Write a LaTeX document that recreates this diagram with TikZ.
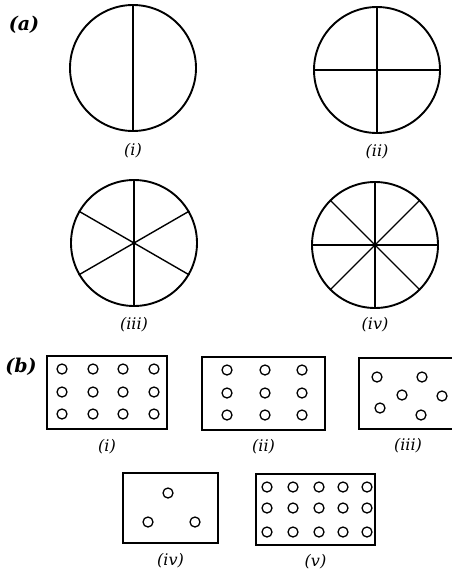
\documentclass[tikz,border=0pt]{standalone}
\usepackage{fontspec}
\newfontfamily\capfont{DejaVu Serif}
\usetikzlibrary{positioning}
\begin{document}
\begin{tikzpicture}[
    x=1pt, y=-1pt,
    disc/.style={circle, draw, line width=1.9pt, minimum size=126pt, inner sep=0pt},
    spoke/.style={line width=1.4pt},
    tag/.style={font=\capfont\fontsize{16}{18}\selectfont\itshape, inner sep=0pt},
    part/.style={font=\capfont\fontsize{19}{22}\selectfont\bfseries\itshape, inner sep=0pt},
    tray/.style={draw, line width=1.6pt, inner sep=0pt},
    bead/.style={line width=1.3pt},
]
\useasboundingbox (0,0) rectangle (452,571);

% --- part (a): divided circles ---
\node[part] (pa) at (24,25) {(a)};

\node[disc] (d1) at (133,68) {};
\draw[spoke] (d1.north) -- (d1.south);
\node[tag, below=11pt of d1] (l1) {(i)};

\node[disc] (d2) at (377,70) {};
\draw[spoke] (d2.north) -- (d2.south);
\draw[spoke] (d2.west) -- (d2.east);
\node[tag, below=10pt of d2] (l2) {(ii)};

\node[disc] (d3) at (134,243) {};
\foreach \a in {90,30,-30}
  \draw[spoke] (d3.\a) -- (d3.{\a+180});
\node[tag, below=10pt of d3] (l3) {(iii)};

\node[disc] (d4) at (375,245) {};
\foreach \a in {90,0,45,-45}
  \draw[spoke] (d4.\a) -- (d4.{\a+180});
\node[tag, below=8pt of d4] (l4) {(iv)};

% --- part (b): trays of beads ---
\node[part] (pb) at (21,367) {(b)};

\node[tray, minimum width=120pt, minimum height=73pt] (t1) at (107,392.5) {};
\foreach \x in {62,93,123,154}
  \foreach \y in {369,392,414}
    \draw[bead] (\x,\y) circle (5pt);
\node[tag, below=9pt of t1] (m1) {(i)};

\node[tray, minimum width=123pt, minimum height=73pt] (t2) at (263.5,393.5) {};
\foreach \x in {227,265,302}
  \foreach \y in {370,393,415}
    \draw[bead] (\x,\y) circle (5pt);
\node[tag, below=8pt of t2] (m2) {(ii)};

\node[tray, minimum width=98pt, minimum height=71pt] (t3) at (408,393.5) {};
\foreach \p in {(377,377),(422,377),(402,395),(442,396),(380,408),(421,415)}
  \draw[bead] \p circle (5pt);
\node[tag, below=8pt of t3] (m3) {(iii)};

\node[tray, minimum width=95pt, minimum height=70pt] (t4) at (170.5,508) {};
\foreach \p in {(168,493),(148,522),(195,522)}
  \draw[bead] \p circle (5pt);
\node[tag, below=9pt of t4] (m4) {(iv)};

\node[tray, minimum width=119pt, minimum height=71pt] (t5) at (315.5,509.5) {};
\foreach \x in {267,293,319,343,367}
  \foreach \y in {487,508,532}
    \draw[bead] (\x,\y) circle (5pt);
\node[tag, below=8pt of t5] (m5) {(v)};
\end{tikzpicture}
\end{document}
